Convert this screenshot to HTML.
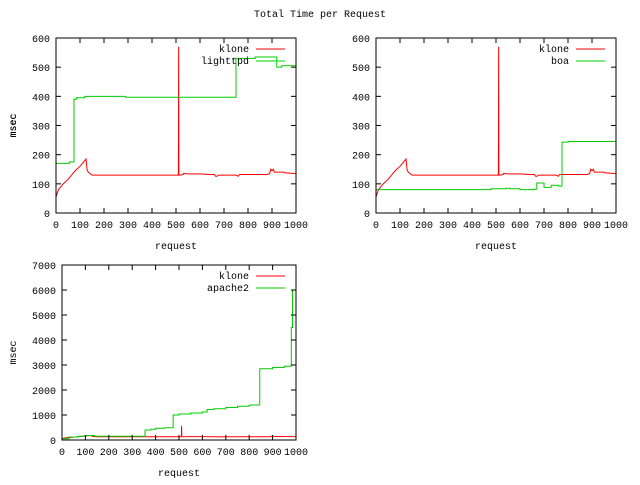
<!DOCTYPE html>
<html><head><meta charset="utf-8"><style>
body{margin:0;background:#fff}
svg text{font-family:"Liberation Mono","DejaVu Sans Mono",monospace;font-size:10px;fill:#000}
</style></head><body>
<svg id="c" width="640" height="480" xmlns="http://www.w3.org/2000/svg">
<text x="320" y="17" text-anchor="middle">Total Time per Request</text>
</svg>
<script>
const kloneX=[0,10,30,50,80,100,125,130,135,150,500,510,511,512,515,530,532,540,542,600,640,660,665,670,680,750,760,765,780,880,890,895,900,905,910,950,952,1000];
const kloneY=[55,80,100,115,145,160,185,145,140,130,130,130,570,130,130,132,136,136,134,134,132,132,126,126,130,130,126,132,132,132,135,150,145,150,140,140,138,135];
const lightX=[0,55,75,85,120,290,750,830,920,940,1000];
const lightY=[170,175,390,395,400,397,530,535,500,505,505];
const boaX=[0,460,480,540,560,600,660,670,700,730,760,775,800,1000];
const boaY=[80,80,83,85,83,80,82,103,88,95,92,243,245,245];
const apX=[0,30,70,100,140,350,355,380,400,440,475,500,550,600,620,650,700,750,800,845,900,950,980,985,1000];
const apY=[50,120,150,180,150,150,400,430,470,490,1000,1040,1080,1120,1220,1250,1300,1350,1400,2850,2900,2950,4500,6000,6050];
const xTicks=[0,100,200,300,400,500,600,700,800,900,1000];
const yTicks1=[0,100,200,300,400,500,600];
const yTicks3=[0,1000,2000,3000,4000,5000,6000,7000];
const svg=document.getElementById('c');
const NS='http://www.w3.org/2000/svg';
function mk(t,a,p){const e=document.createElementNS(NS,t);for(const k in a)e.setAttribute(k,a[k]);(p||svg).appendChild(e);return e;}
function plot(name,L,R,T,B,ymax,yTicks,series,names){
  const g=mk('g',{});
  
  
  const sx=v=>L+(R-L)*v/1000, sy=v=>B-(B-T)*v/ymax;
  series.forEach((s,i)=>{
    let d='';
    s.x.forEach((xv,j)=>{
      if(j===0)d+='M'+sx(xv)+','+sy(s.y[j]);
      else if(s.step)d+='H'+sx(xv)+'V'+sy(s.y[j]);
      else d+='L'+sx(xv)+','+sy(s.y[j]);
    });
    if(s.step)d+='H'+sx(1000);
    const p=mk('path',{d:d,fill:'none',stroke:s.c,'stroke-width':1},g);
    
    
  });
  const fr=mk('rect',{x:L,y:T,width:R-L,height:B-T,fill:'none',stroke:'#000','stroke-width':1},g);
  
  
  xTicks.forEach(v=>{
    const x=sx(v);
    mk('line',{x1:x,x2:x,y1:B,y2:B-5,stroke:'#000'},g);
    mk('line',{x1:x,x2:x,y1:T,y2:T+5,stroke:'#000'},g);
    const t=mk('text',{x:x,y:B+15,'text-anchor':'middle'},g);t.textContent=v;
    
    
  });
  yTicks.forEach(v=>{
    const y=sy(v);
    mk('line',{x1:L,x2:L+5,y1:y,y2:y,stroke:'#000'},g);
    mk('line',{x1:R,x2:R-5,y1:y,y2:y,stroke:'#000'},g);
    const t=mk('text',{x:L-6,y:y+4,'text-anchor':'end'},g);t.textContent=v;
    
    
  });
  const xl=mk('text',{x:(L+R)/2,y:B+36,'text-anchor':'middle'},g);xl.textContent='request';
  
  
  const yc=(T+B)/2;
  const yl=mk('text',{x:16,y:yc,'text-anchor':'middle',transform:'rotate(-90 16 '+yc+')'},g);yl.textContent='msec';
  
  
  names.forEach((n,i)=>{
    const y=T+11+i*12;
    const t=mk('text',{x:R-47,y:y+3,'text-anchor':'end'},g);t.textContent=n;
    
    
    mk('line',{x1:R-40,x2:R-11,y1:y,y2:y,stroke:series[i].c},g);
  });
}
plot('plot-lighttpd',56,296,38,213,600,yTicks1,[{x:kloneX,y:kloneY,c:'#f00',step:false},{x:lightX,y:lightY,c:'#0c0',step:true}],['klone','lighttpd']);
plot('plot-boa',376,616,38,213,600,yTicks1,[{x:kloneX,y:kloneY,c:'#f00',step:false},{x:boaX,y:boaY,c:'#0c0',step:true}],['klone','boa']);
plot('plot-apache2',62,296,265,440,7000,yTicks3,[{x:kloneX,y:kloneY,c:'#f00',step:false},{x:apX,y:apY,c:'#0c0',step:true}],['klone','apache2']);
</script>
</body></html>
